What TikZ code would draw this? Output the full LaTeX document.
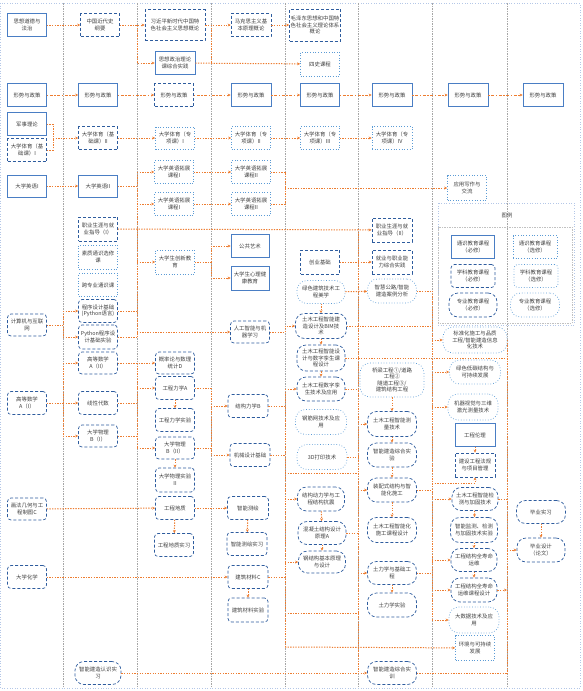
\documentclass[tikz,border=0pt]{standalone}
\usepackage{fontspec}
\newfontfamily\cjk{Noto Sans CJK SC}
\usetikzlibrary{arrows.meta}
\definecolor{ora}{HTML}{ED7D31}
\definecolor{bdk}{HTML}{2E5C9E}
\definecolor{bmd}{HTML}{4A7EC4}
\definecolor{blt}{HTML}{5B9BD5}
\definecolor{txt}{HTML}{404040}
\definecolor{sepc}{HTML}{A6A6A6}
\definecolor{frmc}{HTML}{B4C7E7}
\tikzset{
 base/.style={fill=white,text=txt,font=\cjk\fontsize{5.4}{6.6}\selectfont,align=center,inner sep=0.5pt,line width=0.7pt},
 gb/.style={base,draw=bmd,rectangle},
 gd/.style={base,draw=bdk,rectangle,densely dashed},
 ge/.style={base,draw=blt,rectangle,dotted},
 sb/.style={base,draw=bdk,rounded corners=3.5pt,densely dashed},
 se/.style={base,draw=blt,rounded corners=3.5pt,dotted},
 pb/.style={base,draw=bdk,rounded corners=9pt,densely dashed},
 pe/.style={base,draw=blt,rounded corners=10pt,dotted},
 cn/.style={draw=ora,line width=1pt,dash pattern=on 1.3pt off 1.3pt},
 cnt/.style={draw=ora,line width=0.7pt,dash pattern=on 1.3pt off 1.3pt},
 ca/.style={cn,-{Stealth[length=3pt,width=2.8pt]}},
 cd/.style={draw=ora,line width=1pt,dash pattern=on 1.3pt off 1.6pt on 3pt off 1.6pt,-{Stealth[length=3pt,width=2.8pt]}},
 sepl/.style={draw=sepc,line width=0.6pt,dash pattern=on 1.5pt off 1pt},
 frm/.style={draw=frmc,line width=0.6pt,dotted},
}
\newcommand\nd[7]{\node[#2,minimum width=#5pt,minimum height=#6pt] (#1) at (#3,#4) {#7};}
\begin{document}
\begin{tikzpicture}[x=1pt,y=-1pt]
\useasboundingbox (0,0) rectangle (582,691);
\draw[frm] (0.5,3) rectangle (580,688);
\foreach \x in {63,137,211,285,358,432,507} \draw[sepl] (\x,3) -- (\x,688);
% legend frame
\draw[frm] (438,203) rectangle (574,325);
\draw[sepl,draw=sepc!70] (438,227) rectangle (572,323);
\node[base,fill=none] (lgt) at (507,215) {图例};
% ---- column 1
\nd{a1}{gb}{27}{25}{39}{23}{思想道德与\\法治}
\nd{a2}{gb}{27}{95}{39}{23}{形势与政策}
\nd{a3}{gb}{27}{124}{39}{23}{军事理论}
\nd{a4}{gd}{27}{150}{39}{23}{大学体育（基\\础课）I}
\nd{a5}{gb}{27}{186}{39}{22}{大学英语I}
\nd{a6}{sb}{27}{325}{39}{22}{计算机与互联\\网}
\nd{a7}{sb}{27}{403}{39}{23}{高等数学\\A（I）}
\nd{a8}{sb}{27}{509}{39}{22}{画法几何与工\\程制图C}
\nd{a9}{sb}{27}{577}{39}{23}{大学化学}
% ---- column 2
\nd{b1}{gd}{100}{25}{39}{23}{中国近代史\\纲要}
\nd{b2}{gb}{98}{95}{39}{23}{形势与政策}
\nd{b3}{gd}{98}{138}{39}{23}{大学体育（基\\础课）II}
\nd{b4}{gb}{98}{186}{39}{22}{大学英语II}
\nd{b5}{gd}{98}{229}{39}{24}{职业生涯与就\\业指导（I）}
\nd{b6}{ge}{98}{257}{39}{24}{素质通识选修\\课}
\nd{b7}{ge}{98}{285}{39}{23}{跨专业通识课}
\nd{b8}{sb}{98}{311}{39}{23}{程序设计基础\\(Python语言)}
\nd{b9}{sb}{98}{337}{39}{24}{Python程序设\\计基础实验}
\nd{b10}{sb}{98}{363}{39}{22}{高等数学\\A（II）}
\nd{b11}{sb}{98}{403}{39}{23}{线性代数}
\nd{b12}{sb}{98}{436}{39}{22}{大学物理\\B（I）}
\nd{b13}{pb}{98}{673}{46}{23}{智能建造认识实\\习}
% ---- column 3
\nd{c1}{gd}{175}{25}{60}{31}{习近平新时代中国特\\色社会主义思想概论}
\nd{c2}{gb}{175}{63}{40}{23}{思想政治理论\\课综合实践}
\nd{c3}{gd}{174}{95}{39}{23}{形势与政策}
\nd{c4}{ge}{175}{138}{39}{22}{大学体育（专\\项课）I}
\nd{c5}{ge}{174}{172}{39}{23}{大学英语拓展\\课程I}
\nd{c6}{ge}{174}{204}{39}{23}{大学英语拓展\\课程I}
\nd{c7}{ge}{175}{262}{39}{24}{大学生创新教\\育}
\nd{c8}{sb}{175}{363}{39}{22}{概率论与数理\\统计D}
\nd{c9}{sb}{175}{388}{39}{23}{工程力学A}
\nd{c10}{sb}{175}{420}{39}{23}{工程力学实验}
\nd{c11}{sb}{175}{448}{39}{22}{大学物理\\B（II）}
\nd{c12}{sb}{175}{480}{39}{24}{大学物理实验\\II}
\nd{c13}{sb}{175}{508}{39}{23}{工程地质}
\nd{c14}{sb}{174}{545}{39}{23}{工程地质实习}
% ---- column 4
\nd{d1}{gd}{251}{25}{40}{23}{马克思主义基\\本原理概论}
\nd{d2}{gb}{251}{95}{40}{23}{形势与政策}
\nd{d3}{ge}{251}{138}{39}{23}{大学体育（专\\项课）II}
\nd{d4}{ge}{251}{172}{39}{23}{大学英语拓展\\课程II}
\nd{d5}{ge}{251}{204}{39}{23}{大学英语拓展\\课程II}
\nd{d6}{gb}{250}{246}{38}{23}{公共艺术}
\nd{d7}{gb}{250}{278}{38}{24}{大学生心理健\\康教育}
\nd{d8}{sb}{250}{332}{39}{22}{人工智能与机\\器学习}
\nd{d9}{sb}{248}{406}{40}{23}{结构力学B}
\nd{d10}{sb}{250}{455}{40}{23}{机械设计基础}
\nd{d11}{sb}{248}{508}{41}{23}{智能测绘}
\nd{d12}{sb}{247}{544}{40}{23}{智能测绘实习}
\nd{d13}{sb}{248}{577}{40}{23}{建筑材料C}
\nd{d14}{sb}{248}{610}{40}{24}{建筑材料实验}
% ---- column 5
\nd{e1}{gd}{315}{25}{51}{32}{毛泽东思想和中国特\\色社会主义理论体系\\概论}
\nd{e2}{ge}{320}{64}{39}{24}{四史课程}
\nd{e3}{gb}{320}{95}{39}{23}{形势与政策}
\nd{e4}{ge}{320}{138}{39}{23}{大学体育（专\\项课）III}
\nd{e5}{gd}{320}{262}{39}{24}{创业基础}
\nd{e6}{pe}{321}{292}{48}{23}{绿色建筑技术工\\程美学}
\nd{e7}{pb}{321}{326}{51}{25}{土木工程智能建\\造设计及BIM技\\术}
\nd{e8}{pb}{321}{358}{48}{26}{土木工程智能设\\计与数字孪生课\\程设计}
\nd{e9}{pb}{321}{389}{48}{24}{土木工程数字孪\\生技术及应用}
\nd{e10}{pe}{321}{422}{51}{25}{钢筋网技术及应\\用}
\nd{e11}{pe}{322}{457}{50}{25}{3D打印技术}
\nd{e12}{pb}{321}{499}{47}{24}{结构动力学与工\\程结构抗震}
\nd{e13}{pb}{322}{533}{48}{23}{混凝土结构设计\\原理A}
\nd{e14}{pb}{322}{562}{47}{22}{钢结构基本原理\\与设计}
% ---- column 6
\nd{f1}{gb}{392}{95}{40}{23}{形势与政策}
\nd{f2}{ge}{392}{138}{40}{23}{大学体育（专\\项课）IV}
\nd{f3}{gd}{392}{230}{40}{24}{职业生涯与就\\业指导（II）}
\nd{f4}{gd}{392}{262}{40}{24}{就业与职业能\\力综合实践}
\nd{f5}{pe}{392}{291}{49}{24}{智慧公路/智能\\建造案例分析}
\nd{f6}{pe}{392}{380}{64}{34}{桥梁工程①/道路\\工程②\\隧道工程③/\\建筑结构工程}
\nd{f7}{pb}{392}{424}{49}{25}{土木工程智能测\\量技术}
\nd{f8}{pb}{392}{455}{49}{24}{智能建造综合实\\验}
\nd{f9}{pb}{392}{490}{49}{24}{装配式结构与智\\能化施工}
\nd{f10}{pb}{392}{530}{49}{25}{土木工程智能化\\施工课程设计}
\nd{f11}{pb}{392}{573}{49}{23}{土力学与基础工\\程}
\nd{f12}{pb}{392}{605}{49}{24}{土力学实验}
\nd{f13}{pb}{392}{673}{49}{23}{智能建造综合实\\训}
% ---- column 7
\nd{g1}{gb}{468}{95}{40}{23}{形势与政策}
\nd{g2}{ge}{467}{188}{39}{25}{应用写作与\\交流}
\nd{g3}{pe}{475}{340}{64}{26}{标准化施工与品质\\工程/智能建造信息\\化技术}
\nd{g4}{pe}{475}{372}{51}{24}{绿色低碳结构与\\可持续发展}
\nd{g5}{pe}{473}{407}{50}{26}{机器视觉与三维\\激光测量技术}
\nd{g6}{gb}{475}{435}{40}{23}{工程伦理}
\nd{g7}{gd}{475}{465}{40}{24}{建设工程法规\\与项目管理}
\nd{g8}{pb}{475}{499}{46}{23}{土木工程智能检\\测与加固技术}
\nd{g9}{pb}{474}{530}{47}{25}{智能监测、检测\\与加固技术实验}
\nd{g10}{pb}{474}{560}{46}{23}{工程结构全寿命\\运维}
\nd{g11}{pb}{474}{590}{46}{24}{工程结构全寿命\\运维课程设计}
\nd{g12}{pe}{474}{620}{50}{26}{大数据技术及应\\用}
\nd{g13}{ge}{475}{648}{39}{25}{环境与可持续\\发展}
% ---- column 8
\nd{h1}{gb}{543}{95}{40}{23}{形势与政策}
\nd{h2}{pb}{541}{512}{49}{23}{毕业实习}
\nd{h3}{pb}{541}{550}{48}{24}{毕业设计\\（论文）}
% ---- legend
\nd{L1}{gb}{473}{247}{43}{23}{通识教育课程\\（必修）}
\nd{L2}{ge}{535}{247}{44}{23}{通识教育课程\\（选修）}
\nd{L3}{sb}{473}{276}{44}{23}{学科教育课程\\（必修）}
\nd{L4}{se}{536}{276}{44}{23}{学科教育课程\\（选修）}
\nd{L5}{pb}{473}{305}{48}{24}{专业教育课程\\（必修）}
\nd{L6}{pe}{535}{305}{49}{24}{专业教育课程\\（选修）}
% ================= connectors
% politics
\draw[ca] (a1) -- (b1);
\draw[ca] (b1) -- (c1);
\coordinate (k1) at (137,25);
\draw[ca] (k1) |- (c2);
\draw[ca] (c1) -- (d1);
\coordinate (k2) at (211,25);
\draw[cn] (k2) -- (k2 |- c2);
\draw[ca] (c2) -- (e2);
\draw[ca] (d1) -- (e1);
% situation & policy
\foreach \p/\q in {a2/b2,b2/c3,c3/d2,d2/e3,e3/f1,f1/g1,g1/h1} \draw[cd] (\p) -- (\q);
% PE
\coordinate (k3) at (53,138);
\draw[cn] (a3.east) -| (k3);
\draw[cn] (a4.east) -| (k3);
\draw[ca] (k3) -- (b3);
\foreach \p/\q in {b3/c4,c4/d3,d3/e4,e4/f2} \draw[ca] (\p) -- (\q);
% English and bus at 137
\draw[ca] (a5) -- (b4);
\coordinate (k4a) at (137,172);
\coordinate (k4z) at (137,338);
\draw[cn] (k4a) -- (k4z);
\draw[cn] (b4.east) -- (b4.east -| k4a);
\draw[ca] (k4a) -- (c5);
\draw[ca] (c6 -| k4a) -- (c6);
\draw[ca] (c7 -| k4a) -- (c7);
\draw[cn] (b8.east) -- (b8.east -| k4a);
\draw[cn] (b9.east) -- (b9.east -| k4a);
\draw[ca] (d8 -| k4a) -- (d8);
\draw[ca] (c5) -- (d4);
\draw[ca] (c6) -- (d5);
\coordinate (k5) at (285,188);
\draw[cn] (d4.east) -| (k5);
\draw[cn] (d5.east) -| (k5);
\draw[ca] (k5) -- (g2);
% career
\draw[ca] (b5) -- (f3);
\coordinate (k6) at (211,262);
\draw[cn] (c7) -- (k6);
\draw[ca] (k6) |- (d6);
\draw[ca] (k6) |- (d7);
\draw[ca] (e5) -- (f4);
% AI & professional
\coordinate (k7) at (285,332);
\draw[cn] (d8) -- (k7);
\draw[ca] (k7) |- (e7.west);
\draw[ca] (e6) -- (e7);
\draw[ca] (e7) -- (e8);
\draw[ca] (e8) -- (e9);
\draw[ca] (e6) -- (f5);
\coordinate (k8a) at (432,291);
\coordinate (k8z) at (432,620);
\draw[cn] (f5) -- (k8a);
\draw[cn] (k8a) -- (k8z);
\draw[cn] (e7.east) -- (e7.east -| k8a);
\draw[ca] (g3 -| k8a) -- (g3);
\draw[ca] (g4 -| k8a) -- (g4);
\draw[ca] (g5 -| k8a) -- (g5);
\coordinate (k9) at (432,483);
\draw[ca] (k9) -| (g7.south);
\draw[ca] (g6) -- (g7);
\draw[cn] (f9) -- (f9 -| k8a);
\draw[ca] (g8 -| k8a) -- (g8);
\draw[ca] (g8) -- (g9);
\draw[ca] (g9) -- (g10);
\draw[ca] (g10) -- (g11);
\draw[ca] (g10 -| k8a) -- (g10);
\draw[ca] (g11 -| k8a) -- (g11);
\draw[ca] (g12 -| k8a) -- (g12);
\draw[cn] (f11) -- (f11 -| k8a);
% bus 358
\coordinate (m1) at (358,229);
\coordinate (m2) at (358,673);
\draw[cn] (m1) -- (m2);
\draw[cn] (e9) -- (e9 -| m1);
\draw[ca] (f7 -| m1) -- (f7);
\draw[cn] (e11) -- (e11 -| m1);
\draw[ca] (f9 -| m1) -- (f9);
\draw[cn] (e13) -- (e13 -| m1);
\draw[ca] (f11 -| m1) -- (f11);
% bus 507
\coordinate (n1) at (507,340);
\coordinate (n2) at (507,673);
\draw[cn] (n1) -- (n2);
\draw[cn] (g3) -- (n1);
\draw[cn] (e8.east) -- (e8.east -| n1);
\draw[cn] (g8) -- (g8 -| n1);
\draw[ca] (g11) -- (g11 -| n1);
\draw[ca] (h3 -| n1) -- (h3);
\draw[ca] (h2) -- (h3);
\draw[cn] (f13) -- (f13 -| n1);
\foreach \p/\q in {f6/f7,f7/f8,f8/f9,f9/f10,f11/f12} \draw[ca] (\p) -- (\q);
% bus 285 lower
\coordinate (p1) at (285,389);
\coordinate (p2) at (285,647);
\draw[cn] (p1) -- (p2);
\draw[ca] (p1) -- (e9);
\draw[cn] (d9) -- (d9 -| p1);
\draw[cn] (d10) -- (d10 -| p1);
\draw[ca] (e12 -| p1) -- (e12);
\draw[ca] (e14 -| p1) -- (e14);
\draw[cn] (d13) -- (d13 -| p1);
\draw[ca] (p2) -- (g13);
\coordinate (q1) at (285,473);
\coordinate (q2) at (358,473);
\coordinate (q3) at (285,613);
\coordinate (q4) at (358,613);
\draw[cnt] (q1) -- (q2);
\draw[cnt] (q3) -- (q4);
\draw[ca] (e12) -- (e13);
\draw[ca] (e13) -- (e14);
% bus 211 lower
\coordinate (r1) at (211,388);
\coordinate (r2) at (211,455);
\draw[cn] (c9) -- (r1);
\draw[cn] (r1) -- (r2);
\draw[ca] (d9 -| r1) -- (d9);
\draw[ca] (r2) -- (d10);
\draw[cn] (c11) -- (c11 -| r1);
% bus 137 lower
\coordinate (s1) at (137,363);
\coordinate (s2) at (137,448);
\draw[ca] (b10) -- (c8);
\draw[cn] (s1) -- (s2);
\draw[cn] (b11) -- (b11 -| s1);
\draw[cn] (b12) -- (b12 -| s1);
\draw[ca] (c9 -| s1) -- (c9);
\draw[ca] (s2) -- (c11);
% bus 63
\coordinate (t1) at (63,363);
\coordinate (t2) at (63,436);
\draw[cn] (a7) -- (a7 -| t1);
\draw[cn] (t1) -- (t2);
\draw[ca] (t1) -- (b10);
\draw[ca] (b11 -| t1) -- (b11);
\draw[ca] (t2) -- (b12);
\coordinate (t3) at (63,311);
\coordinate (t4) at (63,337);
\draw[cn] (a6) -- (a6 -| t3);
\draw[cn] (t3) -- (t4);
\draw[ca] (t3) -- (b8);
\draw[ca] (t4) -- (b9);
% verticals and long lines
\draw[ca] (c9) -- (c10);
\draw[ca] (c11) -- (c12);
\draw[ca] (c13) -- (c14);
\draw[ca] (d11) -- (d12);
\draw[ca] (d13) -- (d14);
\draw[ca] (a8) -- (c13);
\draw[ca] (c13) -- (d11);
\draw[ca] (a9) -- (d13);
\draw[ca] (b13) -- (f13);
\end{tikzpicture}
\end{document}
